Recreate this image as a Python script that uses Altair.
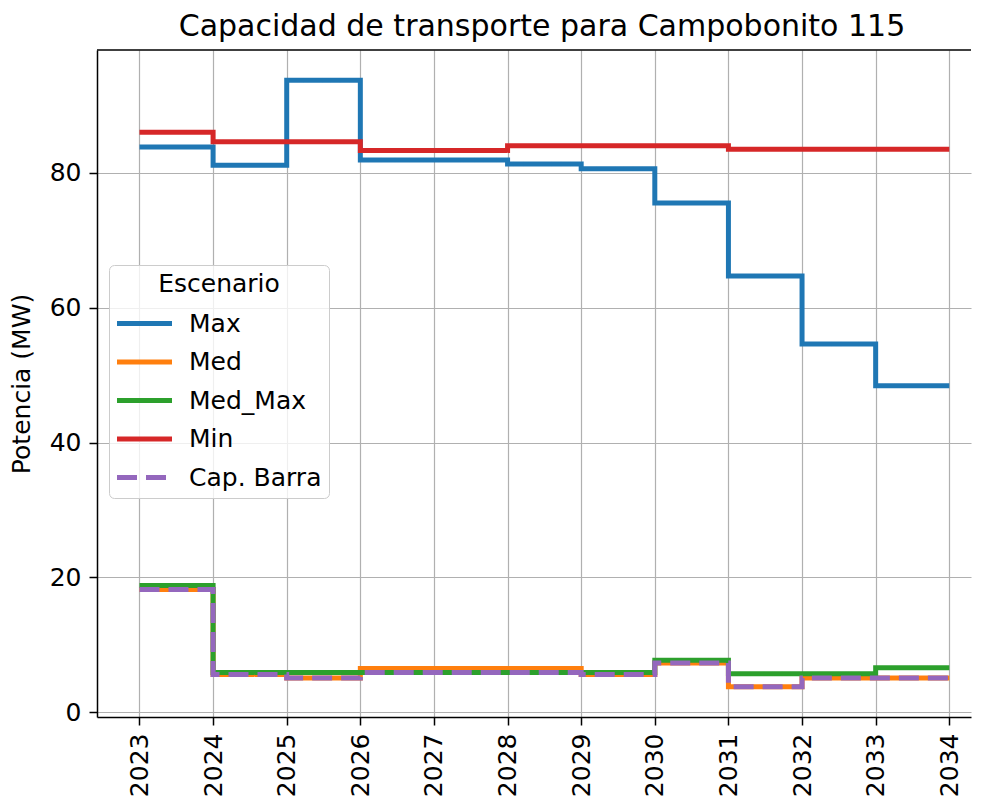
import altair as alt
import pandas as pd

# ---- data ----
years = list(range(2023, 2035))
series_names = ["Max", "Med", "Med_Max", "Min", "Cap. Barra"]
max_vals = [83.8, 81.1, 93.7, 81.9, 81.9, 81.3, 80.6, 75.5, 64.7, 54.6, 48.4, 48.4]
med_vals = [18.2, 5.6, 5.1, 6.5, 6.5, 6.5, 5.6, 7.3, 3.8, 5.1, 5.1, 5.1]
medmax_vals = [18.8, 5.9, 5.9, 5.9, 5.9, 5.9, 5.9, 7.7, 5.7, 5.7, 6.6, 6.6]
min_vals = [86.0, 84.6, 84.6, 83.3, 83.3, 84.0, 84.0, 84.0, 83.5, 83.5, 83.5, 83.5]
cap_vals = [18.2, 5.6, 5.1, 5.9, 5.9, 5.9, 5.6, 7.3, 3.8, 5.1, 5.1, 5.1]
y_ticks = [0, 20, 40, 60, 80]

colors = ["#1f77b4", "#ff7f0e", "#2ca02c", "#d62728", "#9467bd"]
dashes = [[1, 0], [1, 0], [1, 0], [1, 0], [20, 9]]

rows = []
for name, vals in zip(series_names, [max_vals, med_vals, medmax_vals, min_vals, cap_vals]):
    for yr, v in zip(years, vals):
        rows.append({"Año": yr, "Potencia": v, "Escenario": name})
df = pd.DataFrame(rows)

W = 874
H = 667
FONT = "DejaVu Sans"

x_enc = alt.X(
    "Año:Q",
    scale=alt.Scale(domain=[2022.423, 2034.295], nice=False, zero=False),
    axis=alt.Axis(values=years, format="d", labelAngle=270, title=None),
)
y_enc = alt.Y(
    "Potencia:Q",
    scale=alt.Scale(domain=[-0.7, 98.2], nice=False, zero=False),
    axis=alt.Axis(values=y_ticks, title="Potencia (MW)", titlePadding=15),
)
color_enc = alt.Color(
    "Escenario:N",
    scale=alt.Scale(domain=series_names, range=colors),
    sort=series_names,
    title="Escenario",
)
dash_enc = alt.StrokeDash(
    "Escenario:N",
    scale=alt.Scale(domain=series_names, range=dashes),
    sort=series_names,
    title="Escenario",
)

base = alt.Chart(df).encode(x=x_enc, y=y_enc, color=color_enc, strokeDash=dash_enc)

solid = base.transform_filter(alt.datum.Escenario != "Cap. Barra").mark_line(
    interpolate="step-after", strokeWidth=5
)
dashed = base.transform_filter(alt.datum.Escenario == "Cap. Barra").mark_line(
    interpolate="step-after", strokeWidth=5
)

top_frame = alt.Chart(alt.Data(values=[{"a": 1}])).mark_rule(
    color="black", strokeWidth=1.5
).encode(x=alt.value(0), x2=alt.value(W), y=alt.value(0))

chart = (
    alt.layer(solid, dashed, top_frame)
    .properties(
        width=W,
        height=H,
        padding={"top": 4, "left": 1, "right": 0, "bottom": 0},
        title=alt.TitleParams(
            "Capacidad de transporte para Campobonito 115",
            fontSize=30,
            font=FONT,
            fontWeight="normal",
            color="black",
            offset=7,
            frame="group",
            anchor="middle",
            dx=8,
        ),
    )
    .configure_view(stroke=None)
    .configure_axis(
        labelFont=FONT,
        labelFontSize=25,
        labelColor="black",
        titleFont=FONT,
        titleFontSize=25,
        titleFontWeight="normal",
        titleColor="black",
        domainColor="black",
        domainWidth=1.5,
        tickColor="black",
        tickWidth=1.5,
        tickSize=8,
        labelPadding=8,
        grid=True,
        gridColor="#b0b0b0",
        gridWidth=1.2,
    )
    .configure_legend(
        orient="none",
        legendX=12,
        legendY=215,
        fillColor="rgba(255,255,255,0.8)",
        strokeColor="#cccccc",
        cornerRadius=5,
        padding=7,
        titleFont=FONT,
        titleFontSize=25,
        titleFontWeight="normal",
        titleColor="black",
        titleAnchor="middle",
        titlePadding=10,
        labelFont=FONT,
        labelFontSize=25,
        labelColor="black",
        labelOffset=28,
        symbolType="M-2,0H2",
        symbolStrokeWidth=5,
        symbolSize=756,
        symbolOffset=12,
        rowPadding=8.5,
    )
)

chart.save("out.html", embed_options={"renderer": "svg", "actions": False})
